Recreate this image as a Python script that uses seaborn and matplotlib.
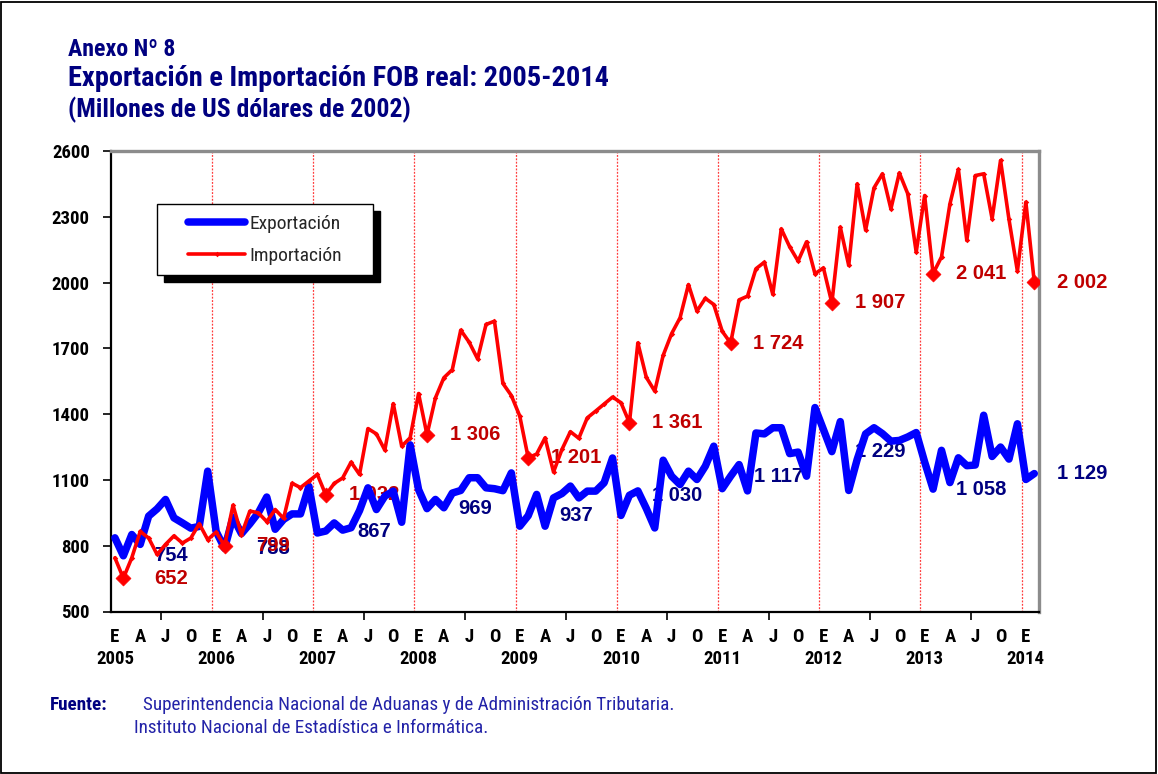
import numpy as np
import pandas as pd
import matplotlib
matplotlib.use("Agg")
import matplotlib.pyplot as plt
import seaborn as sns
from matplotlib import font_manager as fm
from matplotlib.patches import Rectangle
from matplotlib.lines import Line2D

# ---------------------------------------------------------------- data
# Monthly real FOB values, Jan 2005 .. Feb 2014 (millions of 2002 US$)
exportacion = [
    836, 754, 851, 806, 935, 968, 1011, 927, 904, 880, 888, 1140,
    865, 788, 930, 855, 900, 950, 1022, 875, 920, 945, 945, 1071,
    858, 867, 904, 871, 882, 960, 1064, 965, 1026, 1049, 907, 1260,
    1056, 969, 1011, 973, 1040, 1052, 1110, 1110, 1064, 1060, 1051, 1132,
    889, 937, 1034, 889, 1018, 1038, 1072, 1018, 1049, 1049, 1087, 1200,
    938, 1030, 1050, 970, 881, 1190, 1117, 1079, 1140, 1102, 1163, 1254,
    1060, 1117, 1170, 1050, 1314, 1310, 1338, 1338, 1220, 1227, 1117, 1430,
    1330, 1229, 1366, 1052, 1193, 1310, 1338, 1311, 1277, 1280, 1296, 1316,
    1182, 1058, 1235, 1088, 1201, 1165, 1168, 1395, 1207, 1250, 1195, 1356,
    1102, 1129,
]
importacion = [
    745, 652, 745, 865, 835, 760, 806, 845, 812, 835, 900, 828,
    862, 799, 985, 850, 958, 950, 910, 965, 925, 1085, 1065, 1095,
    1125, 1032, 1084, 1109, 1181, 1125, 1334, 1310, 1236, 1448, 1254, 1292,
    1494, 1306, 1474, 1566, 1603, 1783, 1728, 1652, 1809, 1824, 1540, 1485,
    1391, 1201, 1218, 1292, 1136, 1239, 1320, 1290, 1383, 1414, 1446, 1478,
    1452, 1361, 1725, 1568, 1505, 1668, 1767, 1839, 1991, 1870, 1928, 1900,
    1778, 1724, 1921, 1938, 2063, 2093, 1946, 2245, 2163, 2098, 2186, 2040,
    2067, 1907, 2253, 2078, 2450, 2239, 2432, 2496, 2336, 2500, 2405, 2139,
    2397, 2041, 2117, 2359, 2516, 2192, 2488, 2496, 2291, 2557, 2288, 2052,
    2367, 2002,
]
month_letters = ["E", "A", "J", "O"]          # enero, abril, julio, octubre
years = list(range(2005, 2015))
y_ticks = [500, 800, 1100, 1400, 1700, 2000, 2300, 2600]
series_names = ["Exportación", "Importación"]

n = len(exportacion)
mes = np.arange(n)
feb_idx = mes[1::12]                           # February of every year

df = pd.DataFrame({"mes": mes,
                   series_names[0]: exportacion,
                   series_names[1]: importacion})

# ---------------------------------------------------------------- style
sns.set_theme(style="white")
available = {f.name for f in fm.fontManager.ttflist}
narrow_family, narrow_stretch = "Liberation Sans", "normal"
for cand in ["Liberation Sans Narrow", "Arial Narrow", "Nimbus Sans Narrow",
             "DejaVu Sans Condensed", "Roboto Condensed"]:
    if cand in available:
        narrow_family = cand
        break
else:
    if any(f.name == "DejaVu Sans" and f.stretch == "condensed"
           for f in fm.fontManager.ttflist):
        narrow_family, narrow_stretch = "DejaVu Sans", "condensed"

plt.rcParams["font.family"] = [narrow_family, "DejaVu Sans"]
plt.rcParams["font.stretch"] = narrow_stretch

NAVY = "#000080"
DARKRED = "#c00000"
BLUE = "#0000ff"
RED = "#ff0000"
SOURCE_BLUE = "#2323a8"

W, H = 1158, 774
fig = plt.figure(figsize=(W / 100, H / 100), dpi=100)
fig.patch.set_facecolor("white")

x0, x1, ytop, ybot = 110.7, 1038.5, 151.0, 611.5
ax = fig.add_axes([x0 / W, 1 - ybot / H, (x1 - x0) / W, (ybot - ytop) / H])
ax.set_facecolor("white")

# year separators
for k in range(len(years) - 1):
    ax.axvline(11.5 + 12 * k, color="#ff3c3c", lw=0.9,
               ls=(0, (1.5, 1.2)), zorder=1)

# series
sns.lineplot(data=df, x="mes", y=series_names[0], ax=ax, color=BLUE,
             lw=5.4, zorder=4, solid_joinstyle="round",
             solid_capstyle="round")
sns.lineplot(data=df, x="mes", y=series_names[1], ax=ax, color=RED,
             lw=2.6, marker="D", markersize=2.8, markeredgewidth=0,
             zorder=5)

# highlighted February points
feb_imp = [importacion[i] for i in feb_idx]
feb_exp = [exportacion[i] for i in feb_idx]
sns.scatterplot(x=feb_idx, y=feb_imp, ax=ax, marker="D", s=58,
                color=RED, edgecolor=RED, linewidth=0.5, zorder=6,
                legend=False)


def fmt(v):
    return f"{v:,}".replace(",", " ")


for i, v in zip(feb_idx, feb_exp):
    ax.annotate(fmt(v), xy=(i, v), xytext=(48, 0), textcoords="offset pixels",
                ha="center", va="center", fontsize=14.5, fontweight="bold",
                color=NAVY, family="Liberation Sans", zorder=3)
for i, v in zip(feb_idx, feb_imp):
    ax.annotate(fmt(v), xy=(i, v), xytext=(48, 0), textcoords="offset pixels",
                ha="center", va="center", fontsize=14.5, fontweight="bold",
                color=DARKRED, family="Liberation Sans", zorder=3.1)

# axes
ax.set_xlim(-0.5, n - 0.5)
ax.set_ylim(500, 2600)
ax.set_xlabel("")
ax.set_ylabel("")
ax.set_yticks(y_ticks)
ax.set_yticklabels([str(t) for t in y_ticks], fontsize=13.5,
                   fontweight="bold", color="black")
ax.tick_params(axis="y", direction="out", length=6, width=1.2,
               pad=9, left=True, color="black")

xt = np.arange(0, n, 3)
xlabels = []
for i in xt:
    lab = month_letters[(i % 12) // 3]
    if i % 12 == 0:
        lab += "\n" + str(years[i // 12])
    xlabels.append(lab)
ax.set_xticks(xt)
ax.set_xticklabels(xlabels, fontsize=13.5, fontweight="bold",
                   color="black", linespacing=1.25)
ax.tick_params(axis="x", which="major", length=0, pad=12)
ax.set_xticks(np.arange(5.5, n - 6, 12), minor=True)
ax.tick_params(axis="x", which="minor", direction="out", length=6,
               width=1.2, bottom=True, color="black")

for side in ["left", "bottom"]:
    ax.spines[side].set_color("black")
    ax.spines[side].set_linewidth(1.6)
for side in ["top", "right"]:
    ax.spines[side].set_color("#8c8c8c")
    ax.spines[side].set_linewidth(2.4)
ax.grid(False)


# legend with drop shadow
def to_ax(px, py):
    return ((px - x0) / (x1 - x0), (ybot - py) / (ybot - ytop))


lx0, ly0 = to_ax(157.3, 275.3)
lx1, ly1 = to_ax(373.3, 204.3)
sx0, sy0 = to_ax(157.3 + 6.5, 275.3 + 6.5)
ax.add_patch(Rectangle((sx0, sy0), lx1 - lx0, ly1 - ly0,
                       transform=ax.transAxes, facecolor="black",
                       edgecolor="black", zorder=7))
ax.add_patch(Rectangle((lx0, ly0), lx1 - lx0, ly1 - ly0,
                       transform=ax.transAxes, facecolor="white",
                       edgecolor="black", lw=1.0, zorder=8))
handles = [Line2D([], [], color=BLUE, lw=5.4, solid_capstyle="round"),
           Line2D([], [], color=RED, lw=2.6, marker="D", markersize=2.8,
                  markeredgewidth=0)]
leg = ax.legend(handles, series_names, loc="center",
                bbox_to_anchor=((lx0 + lx1) / 2, (ly0 + ly1) / 2),
                frameon=False, fontsize=14, handlelength=2.9,
                handletextpad=0.25, labelspacing=0.75, borderpad=0)
leg.set_zorder(9)

# titles
fig.text(68 / W, 1 - 55.5 / H, "Anexo Nº 8", fontsize=17.2,
         fontweight="bold", color=NAVY, va="baseline")
fig.text(68 / W, 1 - 86 / H, "Exportación e Importación FOB real: 2005-2014",
         fontsize=20.4, fontweight="bold", color=NAVY, va="baseline")
fig.text(68 / W, 1 - 117 / H, "(Millones de US dólares de 2002)",
         fontsize=18.5, fontweight="bold", color=NAVY, va="baseline")

# source
fig.text(50 / W, 1 - 710 / H, "Fuente:", fontsize=13.8, fontweight="bold",
         color=NAVY, va="baseline")
fig.text(143 / W, 1 - 710 / H,
         "Superintendencia Nacional de Aduanas y de Administración Tributaria.",
         fontsize=13.8, color=SOURCE_BLUE, va="baseline")
fig.text(134 / W, 1 - 733 / H,
         "Instituto Nacional de Estadística e Informática.",
         fontsize=13.8, color=SOURCE_BLUE, va="baseline")

# outer frame
fig.add_artist(Rectangle((1 / W, 1 / H), (W - 3) / W, (H - 3) / H,
                         transform=fig.transFigure, fill=False,
                         edgecolor="black", lw=1.3))

fig.savefig("out.png", dpi=100, facecolor="white")
